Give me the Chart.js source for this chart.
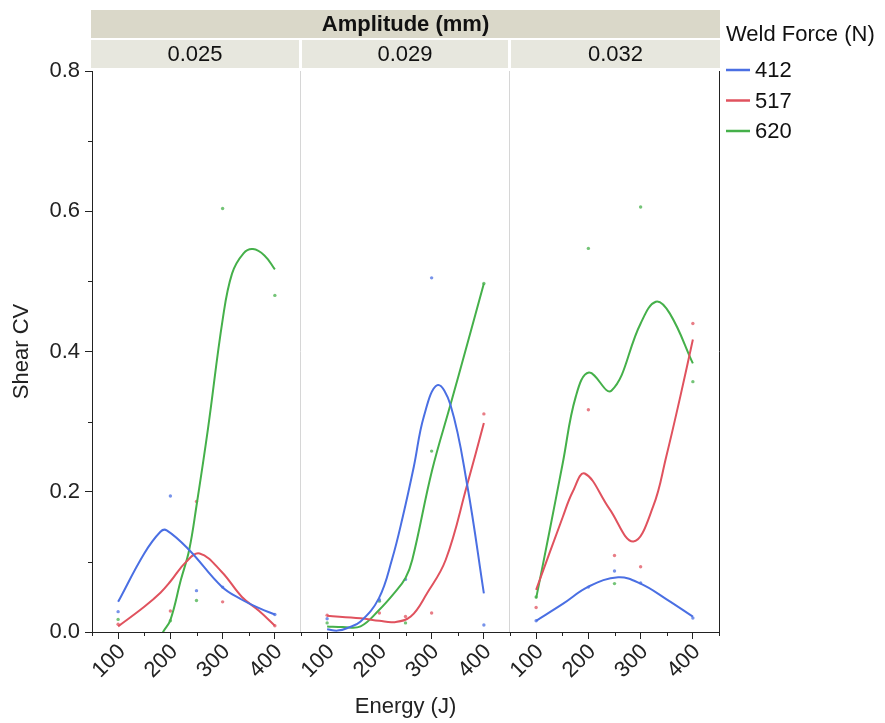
<!DOCTYPE html>
<html>
<head>
<meta charset="utf-8">
<title>Shear CV by Energy</title>
<script src="https://cdn.jsdelivr.net/npm/chart.js@4.4.1/dist/chart.umd.min.js"></script>
<style>
  html, body { margin: 0; padding: 0; background: #fff; }
  #chart { display: block; }
</style>
</head>
<body>
<canvas id="chart" width="885" height="723"></canvas>
<script>
/* ================================================================
   Shear CV vs Energy, faceted by Amplitude, one curve per Weld Force
   ================================================================ */

/* ── data ── */
const amplitudes  = ['0.025', '0.029', '0.032'];
const weldForces  = ['412', '517', '620'];
const energies    = [100, 200, 250, 300, 400];
const energyTicks = [100, 200, 300, 400];
const cvTicks     = [0, 0.2, 0.4, 0.6, 0.8];

// measured Shear CV, rows = weld force 412 / 517 / 620, columns = energies
const cv025 = [
  [0.029, 0.194, 0.059, 0.064, 0.025],
  [0.011, 0.030, 0.186, 0.043, 0.009],
  [0.018, 0.016, 0.045, 0.604, 0.480],
];
const cv029 = [
  [0.019, 0.046, 0.075, 0.505, 0.010],
  [0.024, 0.027, 0.022, 0.027, 0.311],
  [0.013, 0.044, 0.013, 0.258, 0.497],
];
const cv032 = [
  [0.016, 0.064, 0.087, 0.070, 0.020],
  [0.035, 0.317, 0.109, 0.093, 0.440],
  [0.050, 0.547, 0.069, 0.606, 0.357],
];

// smoothing-spline fits as [energy, CV] pairs
const fit025_412 = [[100, 0.043], [150, 0.112], [181, 0.143], [193, 0.145], [236, 0.117], [298, 0.065], [337, 0.046], [370, 0.034], [400, 0.025]];
const fit025_517 = [[100, 0.008], [150, 0.036], [181, 0.056], [200, 0.072], [230, 0.100], [256, 0.112], [298, 0.086], [337, 0.050], [370, 0.030], [400, 0.009]];
const fit025_620 = [[180, -0.010], [186, 0.000], [200, 0.017], [220, 0.074], [236, 0.117], [250, 0.180], [272, 0.290], [300, 0.445], [318, 0.511], [340, 0.540], [358, 0.546], [380, 0.537], [400, 0.517]];

const fit029_412 = [[100, 0.004], [120, 0.002], [140, 0.006], [164, 0.015], [199, 0.048], [224, 0.103], [245, 0.165], [266, 0.236], [285, 0.307], [311, 0.352], [336, 0.324], [368, 0.210], [400, 0.055]];
const fit029_517 = [[100, 0.023], [164, 0.0195], [200, 0.016], [228, 0.014], [260, 0.022], [291, 0.055], [327, 0.103], [368, 0.210], [400, 0.298]];
const fit029_620 = [[100, 0.008], [130, 0.007], [164, 0.008], [199, 0.031], [228, 0.055], [250, 0.077], [263, 0.103], [301, 0.231], [336, 0.324], [368, 0.410], [400, 0.497]];

const fit032_412 = [[100, 0.016], [151, 0.040], [201, 0.065], [257, 0.078], [300, 0.069], [349, 0.047], [400, 0.022]];
const fit032_517 = [[100, 0.060], [151, 0.164], [170, 0.200], [193, 0.226], [240, 0.176], [286, 0.129], [324, 0.179], [349, 0.250], [376, 0.336], [400, 0.417]];
const fit032_620 = [[100, 0.048], [126, 0.145], [151, 0.241], [176, 0.336], [201, 0.370], [244, 0.344], [300, 0.440], [329, 0.471], [356, 0.454], [400, 0.383]];

/* ── styling ── */
const FONT = "'Liberation Sans', Arial, sans-serif";
const INK  = '#222';
const lineColors  = ['#4a6fe3', '#e0525e', '#45b04a'];
const pointColors = ['rgba(74,111,227,0.75)', 'rgba(224,82,94,0.75)', 'rgba(69,176,74,0.75)'];

const panels = [
  { axis: 'x1', cv: cv025, fits: [fit025_412, fit025_517, fit025_620] },
  { axis: 'x2', cv: cv029, fits: [fit029_412, fit029_517, fit029_620] },
  { axis: 'x3', cv: cv032, fits: [fit032_412, fit032_517, fit032_620] },
];

/* ── datasets: fitted curve + raw points per panel / force ── */
const datasets = [];
panels.forEach((p) => {
  weldForces.forEach((force, k) => {
    datasets.push({
      type: 'line',
      label: force,
      xAxisID: p.axis,
      yAxisID: 'y',
      data: p.fits[k].map(([x, y]) => ({ x, y })),
      borderColor: lineColors[k],
      borderWidth: 2,
      pointRadius: 0,
      tension: 0.4,
      fill: false,
    });
  });
});
panels.forEach((p) => {
  weldForces.forEach((force, k) => {
    datasets.push({
      type: 'scatter',
      label: force,
      xAxisID: p.axis,
      yAxisID: 'y',
      data: energies.map((e, j) => ({ x: e, y: p.cv[k][j] })),
      backgroundColor: pointColors[k],
      borderWidth: 0,
      pointRadius: 1.7,
    });
  });
});

/* ── scales ── */
function energyAxis(i) {
  return {
    type: 'linear',
    position: 'bottom',
    stack: 'energy',
    stackWeight: 1,
    min: 50,
    max: 450,
    afterBuildTicks: (s) => { s.ticks = energyTicks.map((v) => ({ value: v })); },
    afterFit: (s) => { s.height = 91; },
    grid: { display: true, drawOnChartArea: false, drawTicks: true, tickLength: 7, color: INK },
    border: { display: true, color: INK, width: 1 },
    ticks: {
      autoSkip: false,
      minRotation: 45,
      maxRotation: 45,
      padding: 0,
      labelOffset: 4,
      color: INK,
      font: { family: FONT, size: 22 },
    },
    title: {
      display: i === 1,
      text: 'Energy (J)',
      color: INK,
      font: { family: FONT, size: 22 },
      padding: { top: 0, bottom: 3 },
    },
  };
}

/* ── frame, headers, minor ticks and legend ── */
const facetFrame = {
  id: 'facetFrame',
  afterDraw(chart) {
    const { ctx, chartArea, scales } = chart;
    const xs = [scales.x1, scales.x2, scales.x3];
    const y  = scales.y;
    ctx.save();

    // panel separators
    ctx.lineWidth = 1;
    ctx.strokeStyle = '#d6d6d6';
    xs.slice(0, 2).forEach((s) => {
      ctx.beginPath();
      ctx.moveTo(Math.round(s.right) - 0.5, chartArea.top);
      ctx.lineTo(Math.round(s.right) - 0.5, chartArea.bottom);
      ctx.stroke();
    });

    // right frame
    ctx.strokeStyle = INK;
    ctx.beginPath();
    ctx.moveTo(Math.round(chartArea.right) + 0.5, chartArea.top);
    ctx.lineTo(Math.round(chartArea.right) + 0.5, chartArea.bottom);
    ctx.stroke();

    // minor ticks
    ctx.beginPath();
    xs.forEach((s) => {
      [50, 150, 250, 350, 450].forEach((v) => {
        const px = Math.round(s.getPixelForValue(v)) + 0.5;
        ctx.moveTo(px, chartArea.bottom);
        ctx.lineTo(px, chartArea.bottom + 4);
      });
    });
    [0.1, 0.3, 0.5, 0.7].forEach((v) => {
      const py = Math.round(y.getPixelForValue(v)) + 0.5;
      ctx.moveTo(chartArea.left - 4, py);
      ctx.lineTo(chartArea.left, py);
    });
    ctx.stroke();

    // header bands
    const left = chartArea.left - 1;
    const right = chartArea.right + 1;
    ctx.fillStyle = '#dad8c9';
    ctx.fillRect(left, 10, right - left, 28);
    ctx.fillStyle = '#111';
    ctx.font = `bold 22px ${FONT}`;
    ctx.textAlign = 'center';
    ctx.textBaseline = 'middle';
    ctx.fillText('Amplitude (mm)', (left + right) / 2, 25);

    ctx.font = `22px ${FONT}`;
    xs.forEach((s, i) => {
      const l = i === 0 ? left : s.left + 1;
      const r = i === 2 ? right : s.right - 2;
      ctx.fillStyle = '#e7e7de';
      ctx.fillRect(l, 40, r - l, 28);
      ctx.fillStyle = '#111';
      ctx.fillText(amplitudes[i], (l + r) / 2, 55);
    });

    // legend
    ctx.textAlign = 'left';
    ctx.fillStyle = '#111';
    ctx.fillText('Weld Force (N)', 726, 35);
    weldForces.forEach((force, k) => {
      const ly = 70 + k * 30.5;
      ctx.strokeStyle = lineColors[k];
      ctx.lineWidth = 2.5;
      ctx.beginPath();
      ctx.moveTo(726, ly);
      ctx.lineTo(750, ly);
      ctx.stroke();
      ctx.fillStyle = '#111';
      ctx.fillText(force, 755, ly + 1);
    });

    ctx.restore();
  },
};

/* ── chart ── */
new Chart(document.getElementById('chart'), {
  type: 'scatter',
  data: { datasets },
  options: {
    responsive: false,
    animation: false,
    layout: { padding: { top: 71, right: 166, bottom: 0, left: 0 } },
    plugins: {
      legend: { display: false },
      tooltip: { enabled: false },
    },
    scales: {
      x1: energyAxis(0),
      x2: energyAxis(1),
      x3: energyAxis(2),
      y: {
        type: 'linear',
        position: 'left',
        min: 0,
        max: 0.8,
        afterBuildTicks: (s) => { s.ticks = cvTicks.map((v) => ({ value: v })); },
        afterFit: (s) => { s.width = 92; },
        grid: { display: true, drawOnChartArea: false, drawTicks: true, tickLength: 7, color: INK },
        border: { display: true, color: INK, width: 1 },
        ticks: {
          padding: 5,
          color: INK,
          font: { family: FONT, size: 22 },
          callback: (v) => Number(v).toFixed(1),
        },
        title: {
          display: true,
          text: 'Shear CV',
          color: INK,
          font: { family: FONT, size: 22 },
          padding: { top: 9, bottom: 0 },
        },
      },
    },
  },
  plugins: [facetFrame],
});
</script>
</body>
</html>
